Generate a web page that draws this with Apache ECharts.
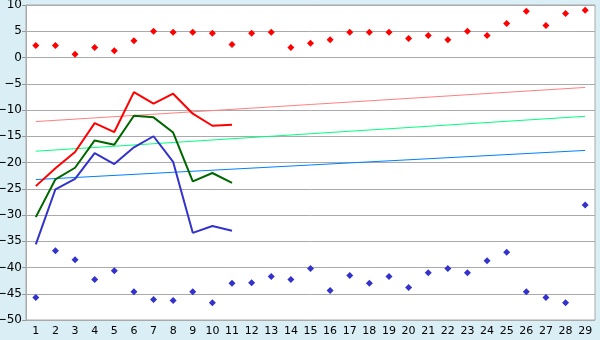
<!DOCTYPE html>
<html><head><meta charset="utf-8">
<script src="https://cdn.jsdelivr.net/npm/echarts@6/dist/echarts.min.js"></script>
<style>html,body{margin:0;padding:0;background:#d9eef5}#c{width:600px;height:340px}</style>
</head><body><div id="c"></div>
<script>
var categories = ['1','2','3','4','5','6','7','8','9','10','11','12','13','14','15','16','17','18','19','20','21','22','23','24','25','26','27','28','29'];
var redPoints = [2.3,2.3,0.6,1.9,1.3,3.2,5.0,4.8,4.8,4.6,2.5,4.6,4.8,1.9,2.7,3.4,4.8,4.8,4.8,3.6,4.2,3.4,5.0,4.2,6.5,8.8,6.1,8.4,9.0];
var bluePoints = [-45.7,-36.8,-38.5,-42.3,-40.6,-44.6,-46.1,-46.3,-44.6,-46.7,-43.0,-42.9,-41.7,-42.3,-40.2,-44.4,-41.5,-43.0,-41.7,-43.8,-41.0,-40.2,-41.0,-38.7,-37.1,-44.6,-45.7,-46.7,-28.1];
var redLine = [-24.5,-21.1,-18.0,-12.5,-14.2,-6.6,-8.8,-6.9,-10.7,-13.0,-12.8];
var greenLine = [-30.4,-23.2,-21.0,-15.8,-16.6,-11.1,-11.4,-14.3,-23.6,-22.0,-23.9];
var blueLine = [-35.6,-25.1,-23.1,-18.2,-20.3,-17.1,-15.0,-19.9,-33.4,-32.1,-33.0];
var trendRed = [-12.2,-5.7];
var trendGreen = [-17.85,-11.2];
var trendBlue = [-23.25,-17.7];
var yTicks = {min:-50, max:10, interval:5};

function trend(arr){ return [[0, arr[0]], [categories.length-1, arr[1]]]; }
var font = 'DejaVu Sans';
var chart = echarts.init(document.getElementById('c'), null, {renderer:'canvas'});
chart.setOption({
  backgroundColor:'#d9eef5',
  animation:false,
  grid:{left:26, right:5, top:5, bottom:20, containLabel:false, outerBoundsMode:'none', show:true, backgroundColor:'#ffffff', borderColor:'#aaaaaa', borderWidth:1},
  xAxis:{type:'category', data:categories, boundaryGap:true,
    axisLine:{lineStyle:{color:'#aaaaaa'}},
    axisTick:{alignWithLabel:true, length:5, lineStyle:{color:'#999999'}, interval:0},
    axisLabel:{interval:0, color:'#000', fontFamily:font, fontSize:11, margin:6},
    splitLine:{show:false}},
  yAxis:{type:'value', min:yTicks.min, max:yTicks.max, interval:yTicks.interval,
    axisLine:{show:true, lineStyle:{color:'#aaaaaa'}},
    axisTick:{show:true, length:4, lineStyle:{color:'#999999'}},
    axisLabel:{color:'#000', fontFamily:font, fontSize:12, margin:4,
      formatter:function(v){return v<0 ? '\u2212'+Math.abs(v) : ''+v;}},
    splitLine:{lineStyle:{color:'#aaaaaa', width:1}}},
  series:[
    {type:'line', data:trend(trendRed), symbol:'none', lineStyle:{color:'#ff8080', width:1}},
    {type:'line', data:trend(trendGreen), symbol:'none', lineStyle:{color:'#00ff80', width:1}},
    {type:'line', data:trend(trendBlue), symbol:'none', lineStyle:{color:'#0080ff', width:1}},
    {type:'line', data:redLine, symbol:'none', lineStyle:{color:'#ff0000', width:2}},
    {type:'line', data:greenLine, symbol:'none', lineStyle:{color:'#006600', width:2}},
    {type:'line', data:blueLine, symbol:'none', lineStyle:{color:'#3333cc', width:2}},
    {type:'scatter', data:redPoints, symbol:'diamond', symbolSize:7, itemStyle:{color:'#ff0000', opacity:1}},
    {type:'scatter', data:bluePoints, symbol:'diamond', symbolSize:7, itemStyle:{color:'#3333cc', opacity:1}}
  ]
});
</script></body></html>
